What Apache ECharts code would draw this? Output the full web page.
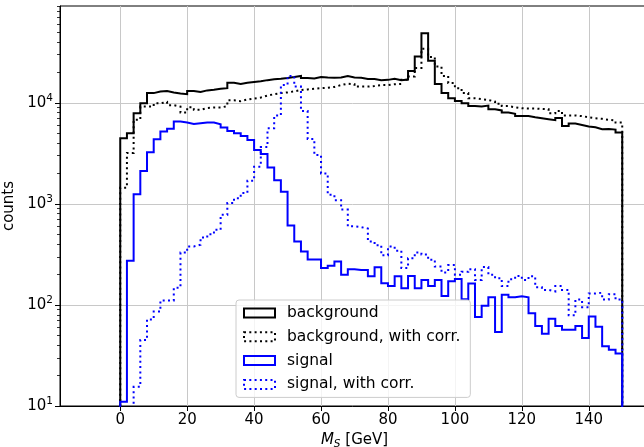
<!DOCTYPE html>
<html><head><meta charset="utf-8">
<script src="https://cdn.jsdelivr.net/npm/echarts@6/dist/echarts.min.js"></script>
<style>html,body{margin:0;padding:0;background:#fff}#c{width:644px;height:447px}</style>
</head><body><div id="c"></div>
<script>
// ---- data ----
const binStart = 0;
const binWidth = 2;
const background = [4470,5000,7900,9900,12500,12950,13100,12700,12400,12200,13100,12800,13300,13500,13800,14000,15800,15400,15800,16100,16400,16800,17100,17300,17600,18000,18500,17600,17400,18000,17800,17700,17800,18400,17800,17700,17200,17200,16800,16900,17300,16800,17000,20700,28800,49000,26100,15400,12500,11100,10460,9930,9340,9200,9400,8660,8430,8020,7800,7430,7400,7200,7050,6900,6750,7100,5920,6250,6050,5850,5730,5490,5520,5440,5080];
const backgroundCorr = [1450,3200,6800,9200,9200,9900,10200,9500,9200,8020,9050,8550,8900,9000,9000,9300,10600,10400,10800,11050,11300,11800,12200,12500,12700,13000,13400,13600,13800,14000,14100,14400,15000,15500,15300,14500,14500,14700,15000,15000,15300,15400,16900,18200,22100,34300,28400,22900,18500,15700,14000,12500,11100,10900,10700,10300,9800,9300,9050,8850,8800,8800,8700,8660,7900,8300,7500,7500,7400,7200,7050,6950,6800,6700,6380];
const signal = [11,274,1250,2120,3250,4370,5200,5560,6530,6400,6200,6300,6400,6400,6150,5700,5280,5000,4710,4300,3420,3120,2300,1720,1320,610,425,338,282,282,232,245,270,199,226,222,222,192,236,164,154,192,146,194,146,177,154,177,123,172,181,114,163,76,98,119,54,126,119,122,119,83,62,52,73,62,57,57,62,47,77,61,39,36,33];
const signalCorr = [0,0,15.5,45,72,86,111,111,148,330,380,395,465,500,555,780,1020,1140,1280,1700,2340,3650,5600,7500,15000,18500,14500,8300,4400,3050,2000,1230,1090,880,600,590,570,425,390,310,378,345,232,290,330,315,280,240,210,248,199,213,226,177,237,199,184,154,180,194,177,192,150,141,136,154,141,79,113,95,130,132,113,128,113];
const seriesNames = ['background', 'background, with corr.', 'signal', 'signal, with corr.'];
const xTicks = [0, 20, 40, 60, 80, 100, 120, 140];
const yTicks = [10, 100, 1000, 10000];
const yMinorTicks = [20,30,40,50,60,70,80,90,200,300,400,500,600,700,800,900,2000,3000,4000,5000,6000,7000,8000,9000,20000,30000,40000,50000,60000,70000,80000,90000];
const xMin = -18, xMax = 158, yMin = 10, yMax = 91000;
const baseline = 1; // histogram floor (below visible axis range)

// ---- build step paths from bins ----
function stepData(vals) {
  const n = vals.length;
  const edge = i => binStart + i * binWidth;
  const pts = [[edge(0), baseline]];
  vals.forEach((v, i) => pts.push([edge(i), v > 0 ? v : baseline]));
  pts.push([edge(n), vals[n - 1] > 0 ? vals[n - 1] : baseline]);
  pts.push([edge(n), baseline]);
  return pts;
}

const FONT = 'DejaVu Sans';
const GRIDC = '#c8c8c8';
const dotted = [2, 3.3];
const styles = [
  {color: '#000000', type: 'solid'},
  {color: '#000000', type: dotted},
  {color: '#0000ff', type: 'solid'},
  {color: '#0000ff', type: dotted}
];
const allData = [background, backgroundCorr, signal, signalCorr];

const chart = echarts.init(document.getElementById('c'), null, {renderer: 'canvas'});
const option = {
  animation: false,
  backgroundColor: '#ffffff',
  textStyle: {fontFamily: FONT},
  grid: {
    left: 60, top: 6, width: 589, height: 400,
    show: true, borderColor: '#000', borderWidth: 1, backgroundColor: 'transparent',
    containLabel: false, outerBoundsMode: 'none'
  },
  xAxis: {
    type: 'value', min: xMin, max: xMax,
    name: '{i|M}{s|S} [GeV]', nameLocation: 'middle', nameGap: 22,
    nameTextStyle: {
      color: '#000', fontSize: 15, fontFamily: FONT,
      rich: {
        i: {fontStyle: 'italic', fontSize: 15, fontFamily: FONT, color: '#000'},
        s: {fontStyle: 'italic', fontSize: 10.5, fontFamily: FONT, color: '#000', padding: [7, 0, 0, 0]}
      }
    },
    axisLine: {show: true, onZero: false, lineStyle: {color: '#000', width: 1}},
    axisTick: {show: true, customValues: xTicks, length: 5, lineStyle: {color: '#000', width: 1}},
    axisLabel: {customValues: xTicks, color: '#000', fontSize: 15, fontFamily: FONT, margin: 7},
    splitLine: {show: true, lineStyle: {color: GRIDC, width: 1}}
  },
  yAxis: [
    {
      type: 'log', logBase: 10, min: yMin, max: yMax,
      name: 'counts', nameLocation: 'middle', nameGap: 40,
      nameTextStyle: {color: '#000', fontSize: 15, fontFamily: FONT},
      axisLine: {show: true, onZero: false, lineStyle: {color: '#000', width: 1}},
      axisTick: {show: true, customValues: yTicks, length: 5, lineStyle: {color: '#000', width: 1}},
      axisLabel: {
        customValues: yTicks, margin: 7, color: '#000', fontFamily: FONT,
        formatter: v => '{b|10}{s|' + Math.round(Math.log10(v)) + '}',
        rich: {
          b: {fontSize: 15, fontFamily: FONT, color: '#000'},
          s: {fontSize: 10.5, fontFamily: FONT, color: '#000', padding: [0, 0, 9, 0]}
        }
      },
      splitLine: {show: true, lineStyle: {color: GRIDC, width: 1}}
    },
    {
      type: 'log', logBase: 10, min: yMin, max: yMax, position: 'left',
      axisLine: {show: false, onZero: false},
      axisTick: {show: true, customValues: yMinorTicks, length: 3, lineStyle: {color: '#000', width: 0.8}},
      axisLabel: {show: false},
      splitLine: {show: false}
    }
  ],
  legend: {
    orient: 'vertical', left: 236, top: 300, z: 10,
    padding: [4, 10, 4, 7], itemGap: 5.8, itemWidth: 31, itemHeight: 9,
    selectedMode: false,
    backgroundColor: 'rgba(255,255,255,0.8)', borderColor: '#cccccc', borderWidth: 1, borderRadius: 3,
    textStyle: {color: '#000', fontSize: 15.5, fontFamily: FONT, lineHeight: 18, padding: [0, 0, 0, 7]},
    data: seriesNames.map((n, i) => ({
      name: n, icon: 'rect',
      itemStyle: {color: 'rgba(0,0,0,0)', borderColor: styles[i].color, borderWidth: 2, borderType: styles[i].type}
    }))
  },
  series: allData.map((vals, i) => ({
    name: seriesNames[i],
    type: 'line', step: 'end', xAxisIndex: 0, yAxisIndex: 0,
    data: stepData(vals),
    showSymbol: false, symbol: 'none', clip: true,
    color: styles[i].color,
    lineStyle: {color: styles[i].color, width: 2, type: styles[i].type, cap: 'butt', join: 'miter'},
    emphasis: {disabled: true},
    z: 2
  }))
};
chart.setOption(option);
</script>
</body></html>
